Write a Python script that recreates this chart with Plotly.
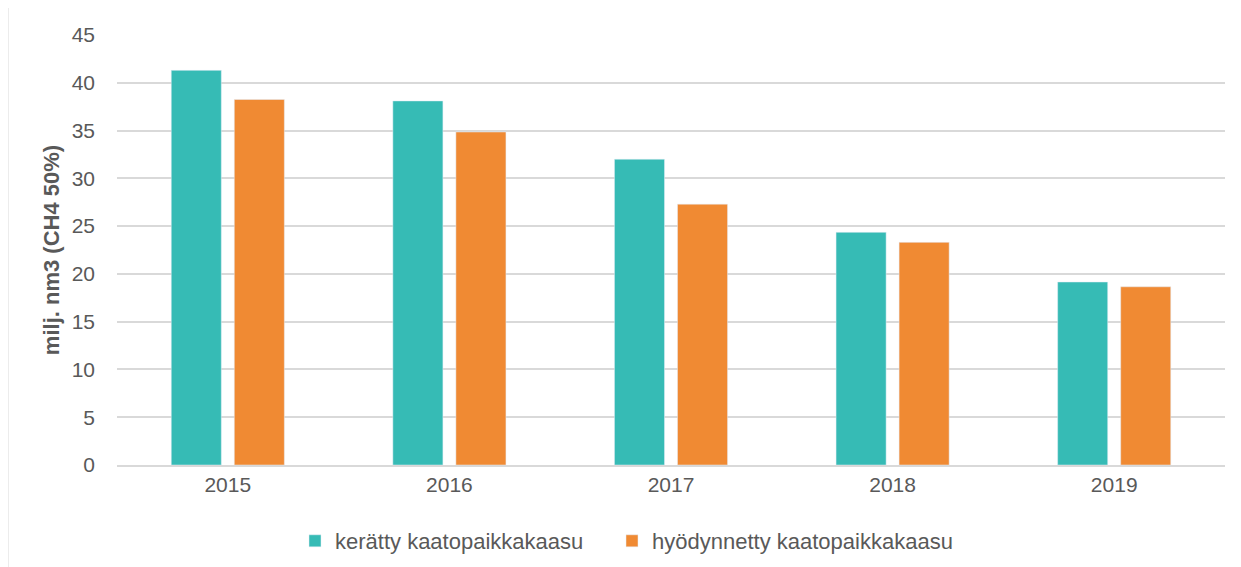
import plotly.graph_objects as go

years = ["2015", "2016", "2017", "2018", "2019"]
keratty = [41.3, 38.1, 32.0, 24.35, 19.15]
hyodynnetty = [38.25, 34.85, 27.3, 23.3, 18.65]
series_names = ["kerätty kaatopaikkakaasu", "hyödynnetty kaatopaikkakaasu"]
y_ticks = [0, 5, 10, 15, 20, 25, 30, 35, 40, 45]

# page has 8px body margin; target plot area on page: x 117..1225, y 35..465
OFF = 8
W, H = 1241 - OFF, 567 - OFF
L, T = 117 - OFF, 35 - OFF
pw, ph = 1108, 430
R = W - L - pw
B = H - T - ph

def px(x):
    return (x - OFF - L) / pw

def py(y):
    return (T + ph - (y - OFF)) / ph

def cx(x):
    return (x - OFF) / W

def cy(y):
    return 1 - (y - OFF) / H

fig = go.Figure()
fig.add_trace(go.Bar(x=years, y=keratty, name=series_names[0], marker_color="#36BBB5", legend="legend"))
fig.add_trace(go.Bar(x=years, y=hyodynnetty, name=series_names[1], marker_color="#F08A33", legend="legend2"))

font = "Liberation Sans, Arial, sans-serif"
leg_common = dict(orientation="h", xref="container", yref="container", xanchor="left",
                  y=cy(541), yanchor="middle", font=dict(size=22, color="#595959"), itemwidth=30)
fig.update_layout(
    width=W, height=H,
    margin=dict(l=L, r=R, t=T, b=B),
    paper_bgcolor="white", plot_bgcolor="white",
    barmode="group", bargap=0.431, bargroupgap=0.206,
    font=dict(family=font, size=21, color="#595959"),
    showlegend=True,
    legend=dict(x=cx(295), **leg_common),
    legend2=dict(x=cx(612), **leg_common),
    xaxis=dict(showgrid=False, ticks="", showline=True, linecolor="#d9d9d9", linewidth=1.5,
               tickfont=dict(size=21, color="#595959")),
    yaxis=dict(range=[0, 45], tickvals=y_ticks, showgrid=True, gridcolor="#d9d9d9", gridwidth=1.5,
               zeroline=False, ticks="", ticklabelstandoff=21,
               tickfont=dict(size=21, color="#595959"),
               title=dict(text="<b>milj. nm3 (CH4 50%)</b>", font=dict(size=22, color="#595959"), standoff=5)),
    shapes=[dict(type="rect", xref="paper", yref="paper", x0=px(8), x1=px(1260), y0=py(590), y1=py(7),
                 line=dict(color="#d9d9d9", width=1), layer="below")],
)

fig.write_html("out.html")
